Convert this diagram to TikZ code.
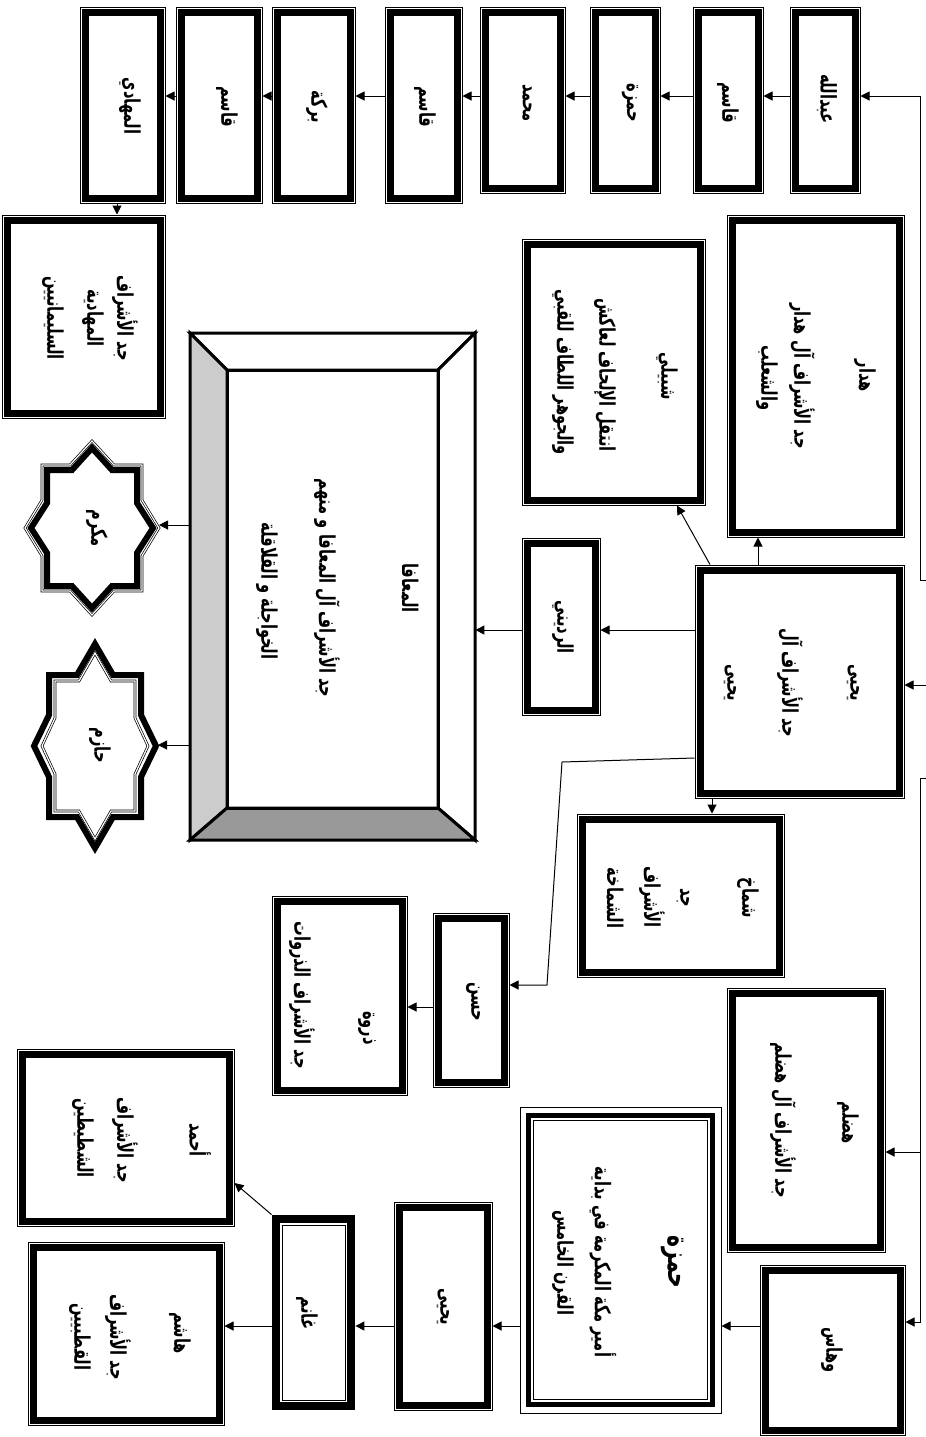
\documentclass[tikz,border=0pt]{standalone}
\usepackage{fontspec}
\newfontfamily\arab[Script=Arabic, FakeStretch=0.68]{DejaVu Sans}
\TeXXeTstate=1
\usetikzlibrary{fit,arrows.meta}
\tikzset{
  x=0.5pt, y=-0.5pt,
  outerline/.style={draw=black, line width=0.5pt, inner sep=0pt},
  hidbox/.style={inner sep=0pt},
  band/.style={line width=3.5pt},
  arr/.style={-{Triangle[length=4.5pt,width=4.5pt]}, line width=0.5pt},
  plain/.style={line width=0.5pt},
  tx/.style={rotate=-90, inner sep=0pt, font=\arab\bfseries\fontsize{10.8}{12}\selectfont},
  txbig/.style={rotate=-90, inner sep=0pt, font=\arab\bfseries\fontsize{15}{17}\selectfont},
  framepanel/.style={draw=black, line width=1.5pt, line join=miter},
  stardbl/.style={draw=black, line width=0.35pt, double=white, double distance=0.6pt},
  starband/.style={draw=black, line width=3pt, line join=miter},
}
\newcommand\mkbox[5]{%
  \node[outerline, fit={(#2,#3)(#4,#5)}] (#1) {};
  \draw[band] ([shift={(2.75pt,2.75pt)}]#1.south west) rectangle ([shift={(-2.75pt,-2.75pt)}]#1.north east);}
\newcommand\starshape[6]{(0,-#4) -- (#5,-#2) -- (#1,-#2) -- (#1,-#6) -- (#3,0) -- (#1,#6) -- (#1,#2) -- (#5,#2) -- (0,#4) -- (-#5,#2) -- (-#1,#2) -- (-#1,#6) -- (-#3,0) -- (-#1,-#6) -- (-#1,-#2) -- (-#5,-#2) -- cycle}
\begin{document}
\begin{tikzpicture}
\useasboundingbox[fill=white] (0,0) rectangle (926,1437);

% row coordinates
\coordinate (r96) at (0,96);
\coordinate (r630) at (0,630);
\coordinate (r685) at (0,685);
\coordinate (r758) at (0,758);
\coordinate (r985) at (0,985);
\coordinate (r1007) at (0,1007);
\coordinate (r1152) at (0,1152);
\coordinate (r1322) at (0,1322);
\coordinate (r1326) at (0,1326);
\coordinate (r1183) at (0,1183);
\coordinate (c117) at (117,0);
\coordinate (c758) at (758,0);
\coordinate (c710) at (710,0);
\coordinate (c677) at (677,0);
\coordinate (c712) at (712,0);

% top row
\mkbox{abd}{790}{7}{860}{193}
\mkbox{qa1}{693}{7}{763}{193}
\mkbox{hm1}{590}{7}{660}{193}
\mkbox{muh}{480}{7}{565}{193}
\mkbox{qa2}{385}{7}{462}{203}
\mkbox{bar}{272}{7}{355}{203}
\mkbox{qa3}{176}{7}{262}{203}
\mkbox{mhd}{80}{7}{165}{203}
\node[tx] (tabd) at (827,99) {\beginR عبدالله\endR};
\node[tx] (tqa1) at (728,103) {\beginR قاسم\endR};
\node[tx] (thm1) at (630,103) {\beginR حمزة\endR};
\node[tx] (tmuh) at (527,103) {\beginR محمد\endR};
\node[tx] (tqa2) at (425,107) {\beginR قاسم\endR};
\node[tx] (tbar) at (317,107) {\beginR بركة\endR};
\node[tx] (tqa3) at (227,107) {\beginR قاسم\endR};
\node[tx] (tmhd) at (130,106) {\beginR المهادي\endR};

\mkbox{sul}{2}{215}{165}{418}
\node[tx] (tsul1) at (125,318) {\beginR جد الأشراف\endR};
\node[tx] (tsul2) at (93,318) {\beginR المهادية\endR};
\node[tx] (tsul3) at (53,318) {\beginR السليمانيين\endR};

% middle
\mkbox{hdr}{727}{215}{904}{537}
\node[tx] (thdr1) at (865,376) {\beginR هدار\endR};
\node[tx] (thdr2) at (802,376) {\beginR جد الأشراف آل هدار\endR};
\node[tx] (thdr3) at (767,378) {\beginR والشعلب\endR};

\mkbox{shb}{522}{239}{705}{505}
\node[tx] (tshb1) at (667,376) {\beginR شبيلي\endR};
\node[tx] (tshb2) at (605,375) {\beginR انتقل الإلحاف لعاكش\endR};
\node[tx] (tshb3) at (563,372) {\beginR والجوهر اللطاف للقبي\endR};

\mkbox{rad}{522}{538}{600}{715}
\node[tx] (trad) at (563,627) {\beginR الرديني\endR};

\mkbox{yah}{695}{565}{904}{798}
\node[tx] (tyah1) at (853,683) {\beginR يحيى\endR};
\node[tx] (tyah2) at (790,683) {\beginR جد الأشراف آل\endR};
\node[tx] (tyah3) at (730,683) {\beginR يحيى\endR};

\mkbox{shm}{577}{814}{784}{977}
\node[tx] (tshm1) at (748,898) {\beginR شماخ\endR};
\node[tx] (tshm2) at (683,898) {\beginR جد\endR};
\node[tx] (tshm3) at (652,897) {\beginR الأشراف\endR};
\node[tx] (tshm4) at (615,898) {\beginR الشماخة\endR};

\mkbox{hsn}{433}{913}{509}{1087}
\node[tx] (thsn) at (473,1002) {\beginR حسن\endR};

\mkbox{drw}{272}{896}{407}{1095}
\node[tx] (tdrw1) at (367,1028) {\beginR ذروة\endR};
\node[tx] (tdrw2) at (302,995) {\beginR جد الأشراف الذروات\endR};

\mkbox{hdl}{727}{988}{885}{1252}
\node[tx] (thdl1) at (848,1123) {\beginR هضلم\endR};
\node[tx] (thdl2) at (783,1120) {\beginR جد الأشراف آل هضلم\endR};

% frame
\node[hidbox, fit={(190,333)(475,840)}] (maf) {};
\draw[framepanel, fill=white] (190,333) -- (475,333) -- (438,370) -- (227,370) -- cycle;
\draw[framepanel, fill=white] (475,333) -- (475,840) -- (438,808) -- (438,370) -- cycle;
\draw[framepanel, fill=black!20] (190,333) -- (227,370) -- (227,808) -- (190,840) -- cycle;
\draw[framepanel, fill=black!40] (190,840) -- (227,808) -- (438,808) -- (475,840) -- cycle;
\draw[framepanel] (227,370) rectangle (438,808);
\node[tx] (tmaf1) at (410,588) {\beginR المعافا\endR};
\node[tx] (tmaf2) at (327,588) {\beginR جد الأشراف آل المعافا و منهم\endR};
\node[tx] (tmaf3) at (267,591) {\beginR الخواجلة و القلاقلة\endR};

% stars
\begin{scope}[shift={(92,528)}]
  \draw[stardbl] \starshape{50}{63}{67}{87}{22}{28};
  \draw[starband] \starshape{45}{58}{61}{80}{20}{25};
\end{scope}
\coordinate (mkR) at (159,525);
\node[tx] (tmk) at (97,528) {\beginR مكرم\endR};
\begin{scope}[shift={(95,746)}]
  \draw[starband] \starshape{46}{71}{61}{102}{18}{31};
  \draw[stardbl] \starshape{40}{65}{53}{93}{16}{28};
\end{scope}
\coordinate (hzR) at (158,745);
\node[tx] (thz) at (100,745) {\beginR حازم\endR};

% bottom
\mkbox{whs}{760}{1265}{905}{1435}
\node[tx] (twhs) at (832,1350) {\beginR وهاس\endR};

\node[outerline, fit={(520,1107)(721,1413)}] (hmz) {};
\draw[line width=2.5pt] ([shift={(4.5pt,4.5pt)}]hmz.south west) rectangle ([shift={(-4.5pt,-4.5pt)}]hmz.north east);
\draw[plain] ([shift={(7pt,7pt)}]hmz.south west) rectangle ([shift={(-7pt,-7pt)}]hmz.north east);
\node[txbig] (thmz1) at (673,1262) {\beginR حمزة\endR};
\node[tx] (thmz2) at (603,1262) {\beginR أمير مكة المكرمة في بداية\endR};
\node[tx] (thmz3) at (563,1263) {\beginR القرن الخامس\endR};

\mkbox{yh2}{394}{1202}{492}{1410}
\node[tx] (tyh2) at (443,1307) {\beginR يحيى\endR};

\node[hidbox, fit={(272,1215)(355,1410)}] (ghn) {};
\draw[line width=4pt] ([shift={(2pt,2pt)}]ghn.south west) rectangle ([shift={(-2pt,-2pt)}]ghn.north east);
\draw[plain] ([shift={(5.2pt,5.2pt)}]ghn.south west) rectangle ([shift={(-5.2pt,-5.2pt)}]ghn.north east);
\node[tx] (tghn) at (307,1313) {\beginR غانم\endR};

\mkbox{ahm}{17}{1049}{234}{1226}
\node[tx] (tahm1) at (200,1140) {\beginR أحمد\endR};
\node[tx] (tahm2) at (125,1140) {\beginR جد الأشراف\endR};
\node[tx] (tahm3) at (83,1138) {\beginR الشطيطين\endR};

\mkbox{hsm}{28}{1242}{224}{1425}
\node[tx] (thsm1) at (180,1333) {\beginR هاشم\endR};
\node[tx] (thsm2) at (118,1337) {\beginR جد الأشراف\endR};
\node[tx] (thsm3) at (80,1337) {\beginR القطبيين\endR};

% free ends of the bus at the right edge
\coordinate (e1) at (926,580);
\coordinate (b1) at (920,580);
\coordinate (e2) at (926,685);
\coordinate (e3) at (926,778);
\coordinate (b3) at (920,778);
\coordinate (b3m) at (920,1152);
\coordinate (w1) at (562,762);
\coordinate (w2) at (547,985);

% connectors
\draw[arr] (e1) -- (b1) |- (abd.east |- r96);
\draw[arr] (abd.west |- r96) -- (qa1.east |- r96);
\draw[arr] (qa1.west |- r96) -- (hm1.east |- r96);
\draw[arr] (hm1.west |- r96) -- (muh.east |- r96);
\draw[arr] (muh.west |- r96) -- (qa2.east |- r96);
\draw[arr] (qa2.west |- r96) -- (bar.east |- r96);
\draw[arr] (bar.west |- r96) -- (qa3.east |- r96);
\draw[arr] (qa3.west |- r96) -- (mhd.east |- r96);
\draw[arr] (mhd.south -| c117) -- (sul.north -| c117);

\draw[arr] (e2) -- (yah.east |- r685);
\draw[arr] (yah.west |- r630) -- (rad.east |- r630);
\draw[arr] (rad.west |- r630) -- (maf.east |- r630);
\draw[arr] (maf.west |- mkR) -- (mkR);
\draw[arr] (maf.west |- hzR) -- (hzR);
\draw[arr] (yah.north -| c758) -- (hdr.south -| c758);
\draw[arr] (yah.north -| c710) -- (shb.south -| c677);
\draw[arr] (yah.south -| c712) -- (shm.north -| c712);
\draw[arr] (yah.west |- r758) -- (w1) -- (w2) -- (hsn.east |- r985);
\draw[arr] (hsn.west |- r1007) -- (drw.east |- r1007);

\draw[arr] (e3) -- (b3) |- (whs.east |- r1322);
\draw[arr] (b3m) -- (hdl.east |- r1152);
\draw[arr] (whs.west |- r1326) -- (hmz.east |- r1326);
\draw[arr] (hmz.west |- r1326) -- (yh2.east |- r1326);
\draw[arr] (yh2.west |- r1326) -- (ghn.east |- r1326);
\draw[arr] (ghn.west |- r1326) -- (hsm.east |- r1326);
\draw[arr] (ghn.north west) -- (ahm.east |- r1183);
\end{tikzpicture}
\end{document}
